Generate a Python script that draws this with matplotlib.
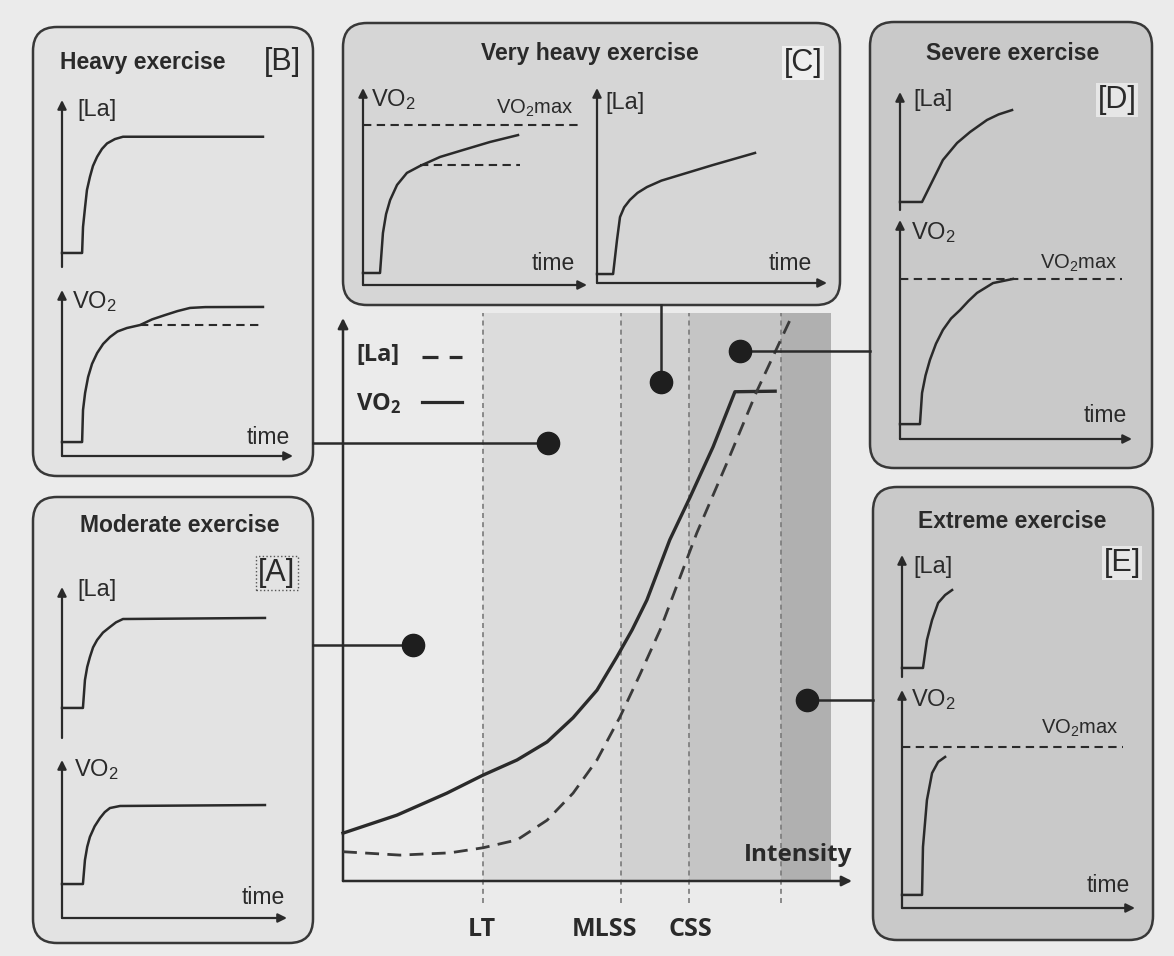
import matplotlib
matplotlib.use('Agg')
import matplotlib.pyplot as plt
from matplotlib.patches import FancyBboxPatch

W, H = 1174, 956
plt.rcParams['font.family'] = ['Liberation Sans', 'DejaVu Sans']
plt.rcParams['mathtext.default'] = 'regular'

INK = '#2a2a2a'
PAGE = '#ebebeb'

# --- intensity overview (values in % of axis span) ---
intensity_vo2 = [0, 10.6, 20.4, 27.5, 34.2, 40.1, 45.2, 49.9, 53.8, 56.8, 59.7, 64.2, 68.2, 72.7, 77.0, 84.9]
vo2_main = [8.5, 11.7, 15.6, 18.8, 21.5, 24.7, 29.0, 33.9, 39.8, 44.6, 49.9, 60.6, 68.2, 77.1, 86.9, 87.0]
intensity_la = [0, 11.2, 21.0, 27.5, 34.2, 40.1, 45.2, 49.9, 54.4, 58.3, 62.3, 69.5, 75.4, 81.3, 87.8]
la_main = [5.2, 4.6, 5.0, 5.9, 7.3, 10.8, 15.6, 21.5, 29.1, 36.6, 44.6, 61.8, 74.2, 87.0, 99.6]

thresholds = [27.5, 54.6, 68.0, 86.0]
threshold_labels = ['LT', 'MLSS', 'CSS', '']
threshold_label_x = [27.3, 51.3, 68.2, 86.0]
zone_edges = [27.5, 54.6, 68.0, 86.0, 95.9]
zone_shades = ['#dcdcdc', '#d1d1d1', '#c5c5c5', '#b0b0b0']

# exercise-domain markers on the overview (intensity, level)
domain_keys = ['A', 'B', 'C', 'D', 'E']
domain_x = [13.8, 40.3, 62.5, 78.0, 91.2]
domain_y = [41.9, 77.8, 88.6, 94.1, 32.1]

# --- time courses for each domain (time and level in % of panel axes) ---
b_la_t = [0, 8.7, 9.1, 10.0, 10.8, 12.1, 13.4, 15.2, 17.3, 19.5, 22.9, 26.4, 87.0]
b_la_v = [8.4, 8.4, 24.0, 36.0, 46.1, 54.0, 60.5, 66.0, 70.7, 74.0, 76.6, 78.0, 78.0]
b_vo2_t = [0, 8.7, 9.1, 10.0, 11.3, 13.0, 15.2, 17.8, 20.8, 24.0, 28.1, 33.8, 39.0, 44.6, 50.0, 55.4, 62.0, 87.0]
b_vo2_v = [8.4, 8.4, 27.7, 38.0, 47.6, 55.5, 62.0, 67.5, 71.7, 75.0, 77.1, 78.9, 82.3, 84.9, 87.3, 89.2, 89.7, 89.8]
b_steady = (78.9, 33.8, 87.0)

a_la_t = [0, 9.3, 10.2, 11.2, 12.4, 13.8, 15.6, 18.2, 21.3, 24.0, 27.1, 90.2]
a_la_v = [19.9, 19.9, 38.4, 47.0, 53.6, 60.0, 64.9, 69.8, 73.5, 76.6, 78.8, 79.5]
a_vo2_t = [0, 9.3, 10.2, 11.2, 12.4, 14.5, 16.9, 19.0, 21.3, 25.8, 90.2]
a_vo2_v = [21.5, 21.5, 36.7, 45.0, 51.3, 58.0, 63.3, 67.0, 69.6, 70.9, 71.5]

c_vo2_t = [0, 7.6, 8.9, 10.3, 12.1, 15.2, 19.6, 25.4, 34.4, 44.6, 56.7, 69.2]
c_vo2_v = [6.1, 6.1, 26.4, 36.0, 43.1, 50.8, 56.9, 60.4, 65.0, 68.5, 72.6, 76.1]
c_vo2max = (81.2, 0, 96.9)
c_steady = (60.9, 25.4, 70.1)
c_la_t = [0, 7.0, 8.7, 10.0, 11.8, 14.3, 17.6, 21.7, 28.0, 36.1, 50.4, 68.7]
c_la_v = [4.6, 4.6, 22.1, 33.8, 38.8, 42.6, 46.2, 49.2, 52.5, 55.4, 60.5, 66.7]

d_la_t = [0, 9.5, 14.2, 18.5, 24.6, 30.2, 37.5, 42.5, 48.3]
d_la_v = [6.8, 6.8, 25.4, 42.4, 56.8, 66.1, 76.3, 81.0, 84.7]
d_vo2_t = [0, 8.6, 9.5, 11.0, 12.9, 15.5, 18.5, 22.0, 25.9, 29.5, 33.2, 40.1, 48.7]
d_vo2_v = [6.8, 6.8, 21.0, 29.0, 36.1, 43.5, 49.8, 55.0, 58.9, 63.0, 66.7, 71.2, 73.1]
d_vo2max = (73.1, 0, 95.7)

e_la_t = [0, 9.0, 10.7, 12.9, 15.5, 18.5, 21.5]
e_la_v = [7.4, 7.4, 30.3, 46.7, 60.7, 67.2, 71.3]
e_vo2_t = [0, 8.6, 9.0, 10.7, 12.9, 15.5, 18.5]
e_vo2_v = [6.0, 6.0, 28.0, 49.5, 61.9, 67.0, 69.3]
e_vo2max = (73.9, 0, 94.8)


def px_axes(fig, x0, x1, ybot, ytop, z):
    ax = fig.add_axes([x0 / W, 1 - ybot / H, (x1 - x0) / W, (ybot - ytop) / H], zorder=z)
    ax.set_xlim(0, 100)
    ax.set_ylim(0, 100)
    ax.axis('off')
    ax.patch.set_alpha(0)
    return ax


def arrow(ax, start, end, lw=1.6, scale=13):
    ax.annotate('', xy=end, xytext=start, xycoords='axes fraction',
                arrowprops=dict(arrowstyle='-|>', color=INK, lw=lw, mutation_scale=scale,
                                shrinkA=0, shrinkB=0), annotation_clip=False)


def panel(fig, box, t, v, time_axis=True, levels=()):
    ax = px_axes(fig, *box, z=3)
    arrow(ax, (0, 0), (0, 1))
    if time_axis:
        arrow(ax, (0, 0), (1, 0))
    ax.plot(t, v, color=INK, lw=1.8, solid_joinstyle='round', clip_on=False)
    for lvl, t0, t1 in levels:
        ax.plot([t0, t1], [lvl, lvl], color=INK, lw=1.5, dashes=(4, 2.6), clip_on=False)
    return ax


fig = plt.figure(figsize=(W / 100, H / 100), dpi=100, facecolor=PAGE)

bg = fig.add_axes([0, 0, 1, 1], zorder=0)
bg.set_xlim(0, W)
bg.set_ylim(H, 0)
bg.axis('off')

# rounded frames for the five domains
frames = {
    'B': (33, 27, 280, 449, '#e3e3e3'),
    'A': (33, 497, 280, 446, '#e3e3e3'),
    'C': (343, 23, 497, 282, '#d6d6d6'),
    'D': (870, 22, 282, 446, '#c9c9c9'),
    'E': (873, 487, 280, 453, '#c9c9c9'),
}
for key, (x, y, w, h, fc) in frames.items():
    bg.add_patch(FancyBboxPatch((x, y), w, h, boxstyle='round,pad=0,rounding_size=24',
                                fc=fc, ec='#383838', lw=1.8))


def label(x, y, s, size=16.5, weight='normal', ha='left', **kw):
    bg.text(x, y, s, fontsize=size, fontweight=weight, ha=ha, va='center', color=INK, **kw)


# titles and tags
label(60, 62, 'Heavy exercise', 16.5, 'bold')
label(282, 62, '[B]', 22, ha='center')
label(180, 525, 'Moderate exercise', 16.5, 'bold', ha='center')
label(277, 573, '[A]', 22, ha='center',
      bbox=dict(boxstyle='square,pad=0.08', fc='none', ec='#555555', ls=':', lw=1))
label(590, 53, 'Very heavy exercise', 16.5, 'bold', ha='center')
label(803, 63, '[C]', 22, ha='center', bbox=dict(boxstyle='square,pad=0.05', fc='#eeeeee', ec='none'))
label(1013, 53, 'Severe exercise', 16.5, 'bold', ha='center')
label(1117, 100, '[D]', 22, ha='center', bbox=dict(boxstyle='square,pad=0.05', fc='#e6e6e6', ec='none'))
label(1012, 522, 'Extreme exercise', 16.5, 'bold', ha='center')
label(1122, 563, '[E]', 22, ha='center', bbox=dict(boxstyle='square,pad=0.05', fc='#e6e6e6', ec='none'))

# panel axis labels
vo2 = 'VO$_2$'
for x, y, s in [(77, 110, '[La]'), (72, 302, vo2), (77, 590, '[La]'), (74, 770, vo2),
                (371, 100, vo2), (605, 103, '[La]'), (913, 100, '[La]'), (911, 233, vo2),
                (913, 567, '[La]'), (911, 700, vo2)]:
    label(x, y, s, 17)
for x, y in [(290, 437), (285, 898), (575, 263), (812, 263), (1127, 415), (1130, 885)]:
    label(x, y, 'time', 16.5, ha='right')
for x, y in [(573, 108), (1117, 263), (1118, 728)]:
    label(x, y, 'VO$_2$max', 14.5, ha='right')

# time-course panels
panel(fig, (62, 293, 267, 100), b_la_t, b_la_v, time_axis=False)
panel(fig, (62, 293, 456, 290), b_vo2_t, b_vo2_v, levels=[b_steady])
panel(fig, (62, 287, 738, 587), a_la_t, a_la_v, time_axis=False)
panel(fig, (62, 287, 918, 760), a_vo2_t, a_vo2_v)
panel(fig, (363, 587, 285, 88), c_vo2_t, c_vo2_v, levels=[c_vo2max, c_steady])
panel(fig, (597, 827, 283, 88), c_la_t, c_la_v)
panel(fig, (900, 1132, 210, 92), d_la_t, d_la_v, time_axis=False)
panel(fig, (900, 1132, 439, 220), d_vo2_t, d_vo2_v, levels=[d_vo2max])
panel(fig, (902, 1135, 677, 555), e_la_t, e_la_v, time_axis=False)
panel(fig, (902, 1135, 908, 690), e_vo2_t, e_vo2_v, levels=[e_vo2max])

# intensity overview
ax = px_axes(fig, 343, 852, 881, 318, z=1)
for i, shade in enumerate(zone_shades):
    ax.axvspan(zone_edges[i], zone_edges[i + 1], ymin=0, ymax=1.009, fc=shade, ec='none',
               clip_on=False, zorder=0)
for xv, name, lx in zip(thresholds, threshold_labels, threshold_label_x):
    ax.plot([xv, xv], [-3.9, 100.9], color='#7a7a7a', lw=1.2, dashes=(3, 2.5), clip_on=False, zorder=1)
    if name:
        ax.text(lx, -8.7, name, fontsize=18, fontweight='bold', family=['Open Sans', 'DejaVu Sans'],
                ha='center', va='center', color=INK)
arrow(ax, (0, 0), (0, 1), lw=1.8, scale=15)
arrow(ax, (0, 0), (1, 0), lw=1.8, scale=15)
ax.plot(intensity_vo2, vo2_main, color=INK, lw=2.4, solid_joinstyle='round', clip_on=False, zorder=3)
ax.plot(intensity_la, la_main, color='#3a3a3a', lw=2.0, dashes=(5, 3), clip_on=False, zorder=3)
ax.text(100, 4.6, 'Intensity', fontsize=17.5, fontweight='bold', family=['Open Sans', 'DejaVu Sans'],
        ha='right', va='center', color=INK, zorder=4)
ax.text(2.6, 93.4, '[La]', fontsize=17, fontweight='bold', family=['Open Sans', 'DejaVu Sans'],
        ha='left', va='center', color=INK)
ax.plot([15.5, 23.4], [93.0, 93.0], color=INK, lw=2.3, dashes=(5, 3.5))
ax.text(2.6, 84.7, 'VO$_2$', fontsize=17, fontweight='bold', family=['Open Sans', 'DejaVu Sans'],
        ha='left', va='center', color=INK)
ax.plot([15.5, 23.4], [85.0, 85.0], color=INK, lw=2.3)

# markers linking each domain on the overview to its frame
top = fig.add_axes([0, 0, 1, 1], zorder=5)
top.set_xlim(0, W)
top.set_ylim(H, 0)
top.axis('off')
top.patch.set_alpha(0)
to_px = top.transData.inverted()
for key, dx, dy in zip(domain_keys, domain_x, domain_y):
    px, py = to_px.transform(ax.transData.transform((dx, dy)))
    x, y, w, h, _ = frames[key]
    if key in ('A', 'B'):
        top.plot([x + w, px], [py, py], color=INK, lw=1.8)
    elif key == 'C':
        top.plot([px, px], [y + h, py], color=INK, lw=1.8)
    else:
        top.plot([px, x], [py, py], color=INK, lw=1.8)
    top.plot(px, py, 'o', color='#1e1e1e', markersize=16)

fig.savefig('out.png', dpi=100, facecolor=PAGE)
